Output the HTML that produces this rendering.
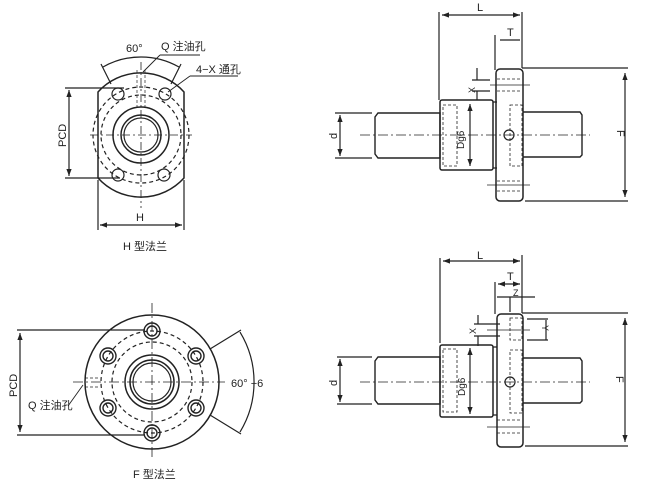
<!DOCTYPE html>
<html><head><meta charset="utf-8"><style>
html,body{margin:0;padding:0;background:#fff}
svg{display:block}
text{font-family:"Liberation Sans","Noto Sans CJK SC",sans-serif;fill:#222}
</style></head><body>
<svg width="650" height="483" viewBox="0 0 650 483" xmlns="http://www.w3.org/2000/svg">
<defs>
<marker id="a" viewBox="0 0 8 8" refX="8" refY="4" markerWidth="6" markerHeight="6" orient="auto-start-reverse"><path d="M0,1 L8,4 L0,7z" fill="#222"/></marker>
</defs>
<g stroke="#222" fill="none" stroke-width="1.2">
<!-- H flange -->
<path d="M98,92 A58,58 0 0 1 184,92 L184,178 A58,58 0 0 1 98,178 Z" stroke-width="1.5"/>
<circle cx="141" cy="135" r="28" stroke-width="1.5"/>
<circle cx="141" cy="135" r="20" stroke-width="1.5"/>
<circle cx="141" cy="135" r="17"/>
<circle cx="141" cy="135" r="40" stroke-dasharray="4,3"/>
<circle cx="141" cy="135" r="48" stroke-dasharray="4,3"/>
<circle cx="118" cy="94" r="6"/><circle cx="165" cy="94" r="6"/>
<circle cx="118" cy="175" r="6"/><circle cx="164" cy="175" r="6"/>
<path d="M141,62 V208 M90,135 H192" stroke-dasharray="8,3,2,3" stroke-width="0.8"/>
<path d="M137,70 V110 M145,70 V110" stroke-dasharray="3,2" stroke-width="0.7"/>
<path d="M103,67 A77,77 0 0 1 179,67"/>
<path d="M101,64 L111,84 M181,64 L171,84"/>
<path d="M65,88 H124 M65,178 H120"/>
<path d="M69,90 V176" marker-start="url(#a)" marker-end="url(#a)"/>
<path d="M98,180 V230 M184,180 V230"/>
<path d="M100,225 H182" marker-start="url(#a)" marker-end="url(#a)"/>
<path d="M160,55 L143,72 M190,76 H238 M190,76 L168,92 M160,55 H200" stroke-width="0.9"/>
<!-- F flange -->
<circle cx="152" cy="382" r="67" stroke-width="1.5"/>
<circle cx="152" cy="382" r="27" stroke-width="1.5"/>
<circle cx="152" cy="382" r="22" stroke-width="1.5"/>
<circle cx="152" cy="382" r="19"/>
<circle cx="152" cy="382" r="40" stroke-dasharray="4,3"/>
<circle cx="152" cy="382" r="51" stroke-dasharray="4,3"/>
<g stroke-width="1.4">
<circle cx="152" cy="331" r="8"/><circle cx="152" cy="331" r="5"/>
<circle cx="152" cy="433" r="8"/><circle cx="152" cy="433" r="5"/>
<circle cx="108" cy="356" r="8"/><circle cx="108" cy="356" r="5"/>
<circle cx="196" cy="356" r="8"/><circle cx="196" cy="356" r="5"/>
<circle cx="108" cy="408" r="8"/><circle cx="108" cy="408" r="5"/>
<circle cx="196" cy="408" r="8"/><circle cx="196" cy="408" r="5"/>
</g>
<path d="M152,303 V458 M73,382 H225" stroke-dasharray="10,3,2,3" stroke-width="0.8"/>
<path d="M85,378 H100 M85,387 H100" stroke-dasharray="3,2" stroke-width="0.7"/>
<path d="M17,330 H145 M17,435 H145"/>
<path d="M20,333 V432" marker-start="url(#a)" marker-end="url(#a)"/>
<path d="M240,332 A96,96 0 0 1 240,432"/>
<path d="M210,349 L241,330 M210,415 L241,434"/>
<path d="M68,406 L83,385" stroke-width="0.9"/>
<!-- side view top -->
<path d="M378,113 H440 V158 H378 L375,154 V117 Z" stroke-width="1.4"/>
<rect x="440" y="100" width="53" height="70" rx="2" stroke-width="1.5"/>
<path d="M493,102 H497 M493,168 H497"/>
<rect x="496" y="69" width="27" height="132" rx="4" stroke-width="1.5"/>
<path d="M523,112 H580 L582,115 V155 L580,157 H523" stroke-width="1.4"/>
<rect x="443" y="105" width="14" height="61" stroke-dasharray="3,2" stroke-width="0.8"/>
<rect x="510" y="105" width="12" height="61" stroke-dasharray="3,2" stroke-width="0.8"/>
<path d="M497,79 H522 M497,91 H522 M497,181 H522 M497,191 H522" stroke-dasharray="3,2" stroke-width="0.7"/>
<path d="M490,85 H530 M487,185 H530" stroke-width="0.7"/>
<circle cx="509" cy="135" r="5"/>
<path d="M360,135 H590" stroke-dasharray="10,3,2,3" stroke-width="0.8"/>
<path d="M439,12 V100 M522,12 V68 M522,68 H628 M495,35 V70 M525,201 H628"/>
<path d="M442,15 H520" marker-start="url(#a)" marker-end="url(#a)"/>
<path d="M500,40 H520"/>
<path d="M625,73 V197" marker-start="url(#a)" marker-end="url(#a)"/>
<path d="M335,113 H372 M335,158 H372"/>
<path d="M340,115 V156" marker-start="url(#a)" marker-end="url(#a)"/>
<path d="M470,104 V166" marker-start="url(#a)" marker-end="url(#a)"/>
<path d="M477,68 V80 M477,91 V100 M472,80 H490 M472,91 H490"/>
<!-- side view bottom -->
<path d="M378,357 H440 V404 H378 L375,400 V361 Z" stroke-width="1.4"/>
<rect x="440" y="345" width="53" height="72" rx="2" stroke-width="1.5"/>
<path d="M493,347 H497 M493,415 H497"/>
<rect x="497" y="314" width="26" height="133" rx="4" stroke-width="1.5"/>
<path d="M523,358 H580 L582,361 V401 L580,403 H523" stroke-width="1.4"/>
<rect x="443" y="349" width="14" height="63" stroke-dasharray="3,2" stroke-width="0.8"/>
<rect x="510" y="318" width="12" height="22" stroke-dasharray="3,2" stroke-width="0.8"/>
<rect x="510" y="350" width="12" height="63" stroke-dasharray="3,2" stroke-width="0.8"/>
<path d="M497,420 H522 M497,433 H522" stroke-dasharray="3,2" stroke-width="0.7"/>
<path d="M487,427 H530 M487,330 H530" stroke-width="0.7"/>
<circle cx="510" cy="382" r="5"/>
<path d="M360,382 H590" stroke-dasharray="10,3,2,3" stroke-width="0.8"/>
<path d="M440,258 V343 M522,255 V313 M522,313 H628 M495,282 V314 M525,446 H628"/>
<path d="M443,261 H520" marker-start="url(#a)" marker-end="url(#a)"/>
<path d="M498,284 H520" marker-start="url(#a)" marker-end="url(#a)"/>
<path d="M497,297 H535 M510,297 V312"/>
<path d="M625,318 V442" marker-start="url(#a)" marker-end="url(#a)"/>
<path d="M337,357 H372 M337,404 H372"/>
<path d="M340,359 V402" marker-start="url(#a)" marker-end="url(#a)"/>
<path d="M470,348 V414" marker-start="url(#a)" marker-end="url(#a)"/>
<path d="M478,315 V324 M478,336 V346 M474,324 H500 M474,336 H500"/>
<path d="M527,319 H548 M527,340 H548 M546,320 V340"/>
</g>
<g font-size="11">
<text x="126" y="52">60°</text>
<text x="161" y="50">Q 注油孔</text>
<text x="196" y="73">4−X 通孔</text>
<text x="136" y="221">H</text>
<text x="123" y="250">H 型法兰</text>
<text transform="translate(66,147) rotate(-90)">PCD</text>
<text transform="translate(17,397) rotate(-90)">PCD</text>
<text x="28" y="409">Q 注油孔</text>
<text x="231" y="387">60°  −6</text>
<text x="133" y="478">F 型法兰</text>
<text x="477" y="11">L</text>
<text x="507" y="36">T</text>
<text transform="translate(337,139) rotate(-90)">d</text>
<text transform="translate(617,130) rotate(90)">F</text>
<text transform="translate(464,149) rotate(-90)" font-size="10">Dg6</text>
<text transform="translate(475,93) rotate(-90)" font-size="9">X</text>
<text x="477" y="259">L</text>
<text x="507" y="280">T</text>
<text x="513" y="296" font-size="9">Z</text>
<text transform="translate(337,386) rotate(-90)">d</text>
<text transform="translate(616,376) rotate(90)">F</text>
<text transform="translate(465,396) rotate(-90)" font-size="10">Dg6</text>
<text transform="translate(476,334) rotate(-90)" font-size="9">X</text>
<text transform="translate(542,325) rotate(90)" font-size="9">Y</text>
</g>
</svg>
</body></html>
